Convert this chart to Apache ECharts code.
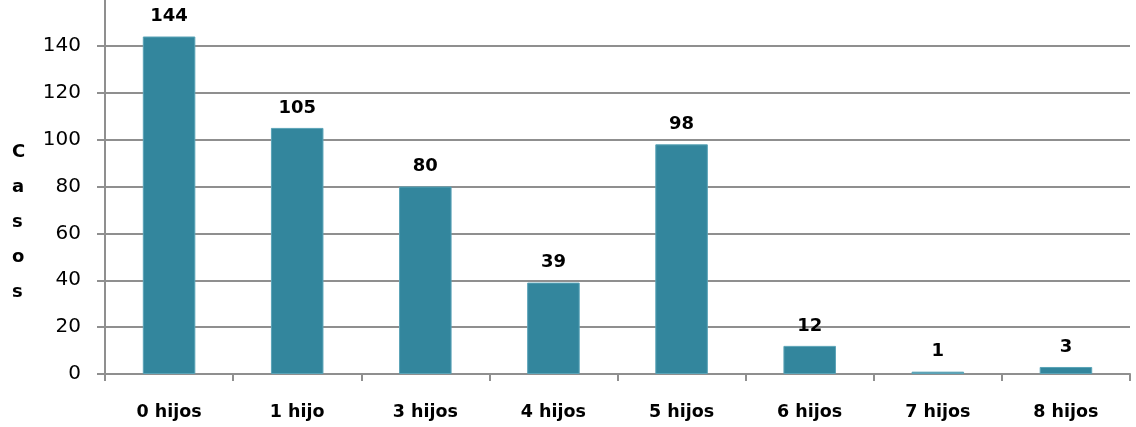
<!DOCTYPE html>
<html>
<head>
<meta charset="utf-8">
<script src="https://cdn.jsdelivr.net/npm/echarts@6/dist/echarts.min.js"></script>
<style>
  html, body { margin: 0; padding: 0; background: #ffffff; }
  #chart { width: 1136px; height: 427px; }
</style>
</head>
<body>
<div id="chart"></div>
<script>
// Número de hijos por caso
const categories = ['0 hijos', '1 hijo', '3 hijos', '4 hijos', '5 hijos', '6 hijos', '7 hijos', '8 hijos'];
const casos = [144, 105, 80, 39, 98, 12, 1, 3];
const yTicks = [0, 20, 40, 60, 80, 100, 120, 140, 160];

const FONT = '"DejaVu Sans", "Liberation Sans", sans-serif';
const GRID_COLOR = '#8f8f8f';
const Y_MAX = yTicks[yTicks.length - 1];

const chart = echarts.init(document.getElementById('chart'), null, { renderer: 'canvas' });

chart.setOption({
  animation: false,
  backgroundColor: '#ffffff',
  grid: { left: 105, right: 6, top: -1, bottom: 53, containLabel: false, outerBoundsMode: 'none' },
  xAxis: {
    type: 'category',
    data: categories,
    boundaryGap: true,
    axisLine: { show: true, lineStyle: { color: GRID_COLOR, width: 2 } },
    axisTick: { show: true, alignWithLabel: false, length: 7, lineStyle: { color: GRID_COLOR, width: 2 } },
    axisLabel: {
      margin: 29,
      color: '#000000',
      fontFamily: FONT,
      fontWeight: 'bold',
      fontSize: 17.5
    },
    splitLine: { show: false }
  },
  yAxis: {
    type: 'value',
    min: yTicks[0],
    max: Y_MAX,
    interval: yTicks[1] - yTicks[0],
    axisLine: { show: true, lineStyle: { color: GRID_COLOR, width: 2 } },
    axisTick: { show: true, length: 8, lineStyle: { color: GRID_COLOR, width: 2 } },
    axisLabel: {
      margin: 24,
      color: '#000000',
      fontFamily: FONT,
      fontSize: 20,
      // the topmost label sits just above the chart edge
      formatter: v => (v === Y_MAX ? '{top|' + v + '}' : String(v)),
      rich: {
        top: { fontFamily: FONT, fontSize: 20, color: '#000000', padding: [0, 0, 9, 0] }
      }
    },
    splitLine: { show: true, lineStyle: { color: GRID_COLOR, width: 2 } }
  },
  graphic: [{
    type: 'text',
    left: 12,
    top: 135,
    style: {
      text: 'C\na\ns\no\ns',
      fontFamily: FONT,
      fontWeight: 'bold',
      fontSize: 18,
      lineHeight: 35,
      fill: '#000000',
      align: 'center'
    }
  }],
  series: [{
    type: 'bar',
    data: casos,
    barWidth: '41%',
    itemStyle: { color: '#33869d', borderColor: '#5aa3b7', borderWidth: 1 },
    label: {
      show: true,
      position: 'top',
      distance: 11,
      color: '#000000',
      fontFamily: FONT,
      fontWeight: 'bold',
      fontSize: 18
    }
  }]
});
</script>
</body>
</html>
